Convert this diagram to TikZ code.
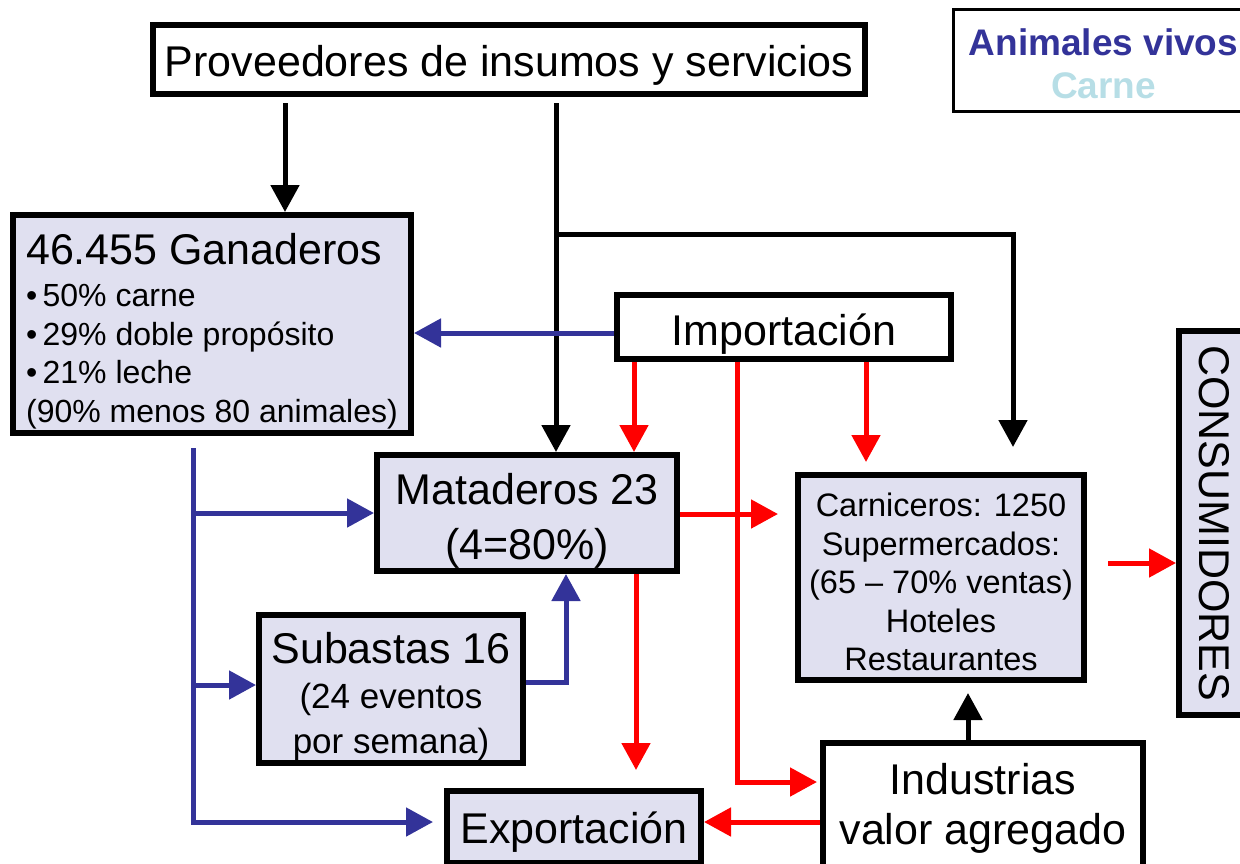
\documentclass[tikz,border=0pt]{standalone}
\usepackage{fontspec}
\setmainfont{Liberation Sans}
\usetikzlibrary{arrows.meta}
\definecolor{azul}{RGB}{51,51,153}
\definecolor{rojo}{RGB}{255,0,0}
\definecolor{carne}{RGB}{183,222,230}
\definecolor{relleno}{RGB}{224,224,240}

\begin{document}
\begin{tikzpicture}[x=1pt,y=-1pt,
	caja/.style={draw, line width=6pt, inner sep=0pt, align=center, font=\fontsize{43}{50}\selectfont},
	gris/.style={caja, fill=relleno},
	negro/.style={draw=black, line width=5pt, -{Triangle[width=28pt,length=27pt]}},
	azulf/.style={negro, draw=azul},
	rojof/.style={negro, draw=rojo}]
			\useasboundingbox (0,0) rectangle (1240,863);
			
			\node	(prov) at (509,59.5) [caja, fill=white, minimum width=712pt, minimum height=69pt] {\rule{0pt}{43.5pt}Proveedores de insumos y servicios};
			\node	(leg) at (1103.5,60) [draw, line width=3pt, minimum width=300pt, minimum height=102pt, align=center, font=\bfseries\fontsize{37}{43}\selectfont] {\rule{0pt}{35pt}\textcolor{azul}{Animales vivos}\\ \textcolor{carne}{Carne}};
			\node	(gan) at (212,324) [gris, minimum width=398pt, minimum height=218pt, align=left, font=\fontsize{32}{38.5}\selectfont] {{\fontsize{43}{50}\selectfont\rule{0pt}{45.5pt}46.455 Ganaderos}\\[4pt] •\,50\% carne\\ •\,29\% doble propósito\\ •\,21\% leche\\ (90\% menos 80 animales)};
			\node	(imp) at (784,327) [caja, fill=white, minimum width=334pt, minimum height=64pt] {\rule{0pt}{46pt}Importación};
			\node	(cons) at (1214,523) [gris, rotate=-90, minimum width=384pt, minimum height=70pt] {CONSUMIDORES};
			\node	(mat) at (527,513) [gris, minimum width=300pt, minimum height=116pt] {\rule{0pt}{46.5pt}Mataderos 23\\[5pt] (4=80\%)};
			\node	(carn) at (941,577.5) [gris, minimum width=286pt, minimum height=205pt, font=\fontsize{32.5}{38.5}\selectfont] {\rule{0pt}{32.7pt}Carniceros: 1250\\ Supermercados:\\ (65 – 70\% ventas)\\ Hoteles\\ Restaurantes};
			\node	(sub) at (391,689) [gris, minimum width=264pt, minimum height=148pt, font=\fontsize{35}{45}\selectfont] {{\fontsize{43}{50}\selectfont\rule{0pt}{47pt}Subastas 16}\\ (24 eventos\\ por semana)};
			\node	(exp) at (574,827) [gris, minimum width=254pt, minimum height=72pt] {\rule{0pt}{42pt}Exportación};
			\node	(ind) at (983,805) [caja, fill=white, minimum width=320pt, minimum height=124pt] {\rule{0pt}{38.5pt}Industrias\\ valor agregado};
			
			\coordinate (rama) at (556,234);
			\coordinate (tronco) at (193,448);
			
			% negro
			\draw[negro, shorten <=6pt] (prov.south -| 285,0) -- (gan.north -| 285,0);
			\draw[negro, shorten <=6pt] (prov.south -| rama) -- (mat.north -| rama);
			\draw[negro, shorten >=25pt] (rama) -| (carn.north -| 1013,0);
			\draw[negro, shorten >=10pt] (ind.north -| 968,0) -- (carn.south -| 968,0);
			
			% azul
			\draw[azulf] (imp.west |- 0,333) -- (gan.east |- 0,333);
			\draw[azulf, shorten >=11pt] (tronco) |- (exp.west |- 0,822);
			\draw[azulf] (tronco |- 0,513) -- (mat.west |- 0,513);
			\draw[azulf] (tronco |- 0,685) -- (sub.west |- 0,685);
			\draw[azulf] (sub.east |- 0,682) -| (mat.south -| 566,0);
			
			% rojo
			\draw[rojof] (imp.south -| 634,0) -- (mat.north -| 634,0);
			\draw[rojof, shorten >=10pt] (imp.south -| 866,0) -- (carn.north -| 866,0);
			\draw[rojof, shorten >=3pt] (imp.south -| 737,0) |- (ind.west |- 0,782);
			\draw[rojof, shorten >=17pt] (mat.east |- 0,514) -- (carn.west |- 0,514);
			\draw[rojof, shorten >=18pt] (mat.south -| 636,0) -- (exp.north -| 636,0);
			\draw[rojof] (ind.west |- 0,822) -- (exp.east |- 0,822);
			\draw[rojof, shorten <=21pt] (carn.east |- 0,563) -- (cons.south |- 0,563);
		\end{tikzpicture}
\end{document}
